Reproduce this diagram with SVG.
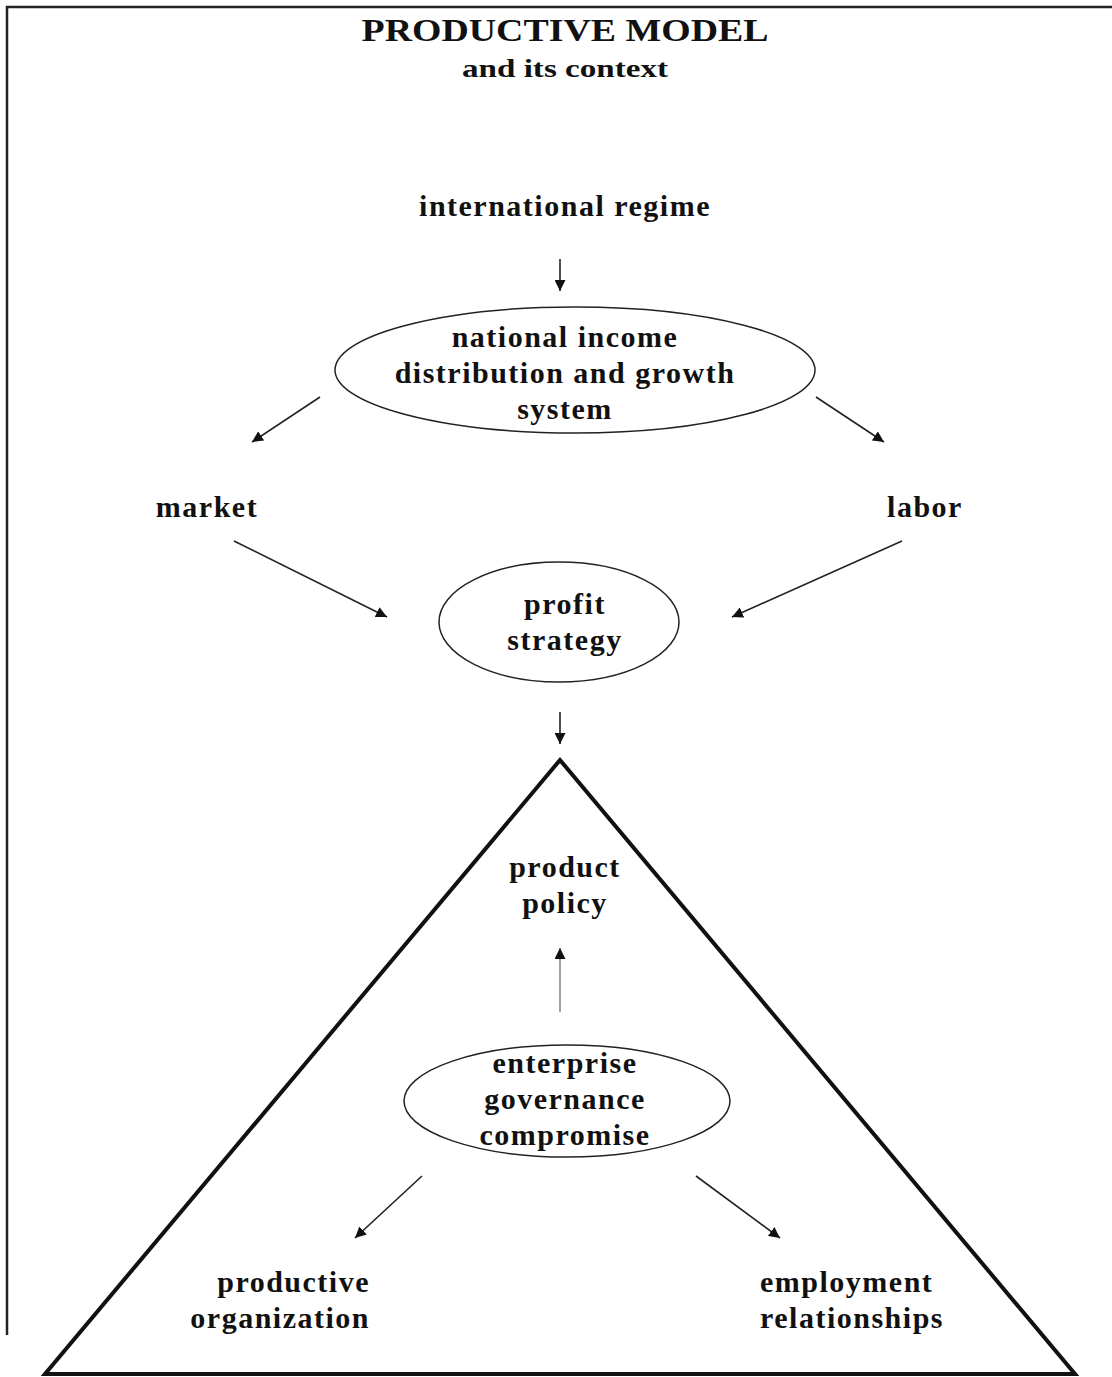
<svg xmlns="http://www.w3.org/2000/svg" width="1112" height="1377" viewBox="0 0 1112 1377">
<style>
.t{font-family:"Liberation Serif","Times New Roman",serif;font-weight:bold;font-size:30px;letter-spacing:1.5px;fill:#111;text-anchor:middle}
.e{fill:none;stroke:#222;stroke-width:1.5}
.c{stroke:#222;stroke-width:1.6;fill:none;marker-end:url(#ah)}
</style>
<defs>
<marker id="ah" viewBox="0 0 10 10" refX="10" refY="5" markerWidth="11" markerHeight="11" markerUnits="userSpaceOnUse" orient="auto">
<path d="M0,0 L10,5 L0,10 z" fill="#111"/>
</marker>
</defs>
<rect width="1112" height="1377" fill="#fff"/>
<g id="frame">
<polyline points="7,1335 7,7 1112,7" fill="none" stroke="#222" stroke-width="2.5"/>
</g>
<g id="title">
<text x="565" y="41" style="font-family:'Liberation Serif',serif;font-size:32px;font-weight:bold;text-anchor:middle;fill:#111" textLength="407" lengthAdjust="spacingAndGlyphs">PRODUCTIVE MODEL</text>
<text x="565" y="77" style="font-family:'Liberation Serif',serif;font-size:26px;font-weight:bold;text-anchor:middle;fill:#111" textLength="206" lengthAdjust="spacingAndGlyphs">and its context</text>
</g>
<g id="international-regime"><text class="t" x="565" y="216">international regime</text></g>
<g id="national-income">
<ellipse class="e" cx="575" cy="370" rx="240" ry="63"/>
<text class="t" x="565" y="347">national income</text>
<text class="t" x="565" y="383">distribution and growth</text>
<text class="t" x="565" y="419">system</text>
</g>
<g id="market"><text class="t" x="207" y="517">market</text></g>
<g id="labor"><text class="t" x="925" y="517">labor</text></g>
<g id="profit-strategy">
<ellipse class="e" cx="559" cy="622" rx="120" ry="60"/>
<text class="t" x="565" y="614">profit</text>
<text class="t" x="565" y="650">strategy</text>
</g>
<g id="triangle">
<polygon points="560,760 45,1374 1075,1374" fill="none" stroke="#111" stroke-width="4" stroke-linejoin="miter"/>
</g>
<g id="product-policy">
<text class="t" x="565" y="877">product</text>
<text class="t" x="565" y="913">policy</text>
</g>
<g id="enterprise-governance">
<ellipse class="e" cx="567" cy="1101" rx="163" ry="56"/>
<text class="t" x="565" y="1073">enterprise</text>
<text class="t" x="565" y="1109">governance</text>
<text class="t" x="565" y="1145">compromise</text>
</g>
<g id="productive-organization">
<text class="t" x="370" y="1292" style="text-anchor:end">productive</text>
<text class="t" x="370" y="1328" style="text-anchor:end">organization</text>
</g>
<g id="employment-relationships">
<text class="t" x="760" y="1292" style="text-anchor:start">employment</text>
<text class="t" x="760" y="1328" style="text-anchor:start">relationships</text>
</g>
<g id="connectors">
<line class="c" x1="560" y1="259" x2="560" y2="291"/>
<line class="c" x1="320" y1="397" x2="252" y2="442"/>
<line class="c" x1="816" y1="397" x2="884" y2="442"/>
<line class="c" x1="234" y1="541" x2="387" y2="617"/>
<line class="c" x1="902" y1="541" x2="732" y2="617"/>
<line class="c" x1="560" y1="712" x2="560" y2="744"/>
<line class="c" x1="560" y1="1012" x2="560" y2="948" style="stroke:#888"/>
<line class="c" x1="422" y1="1176" x2="355" y2="1238"/>
<line class="c" x1="696" y1="1176" x2="780" y2="1238"/>
</g>
</svg>
